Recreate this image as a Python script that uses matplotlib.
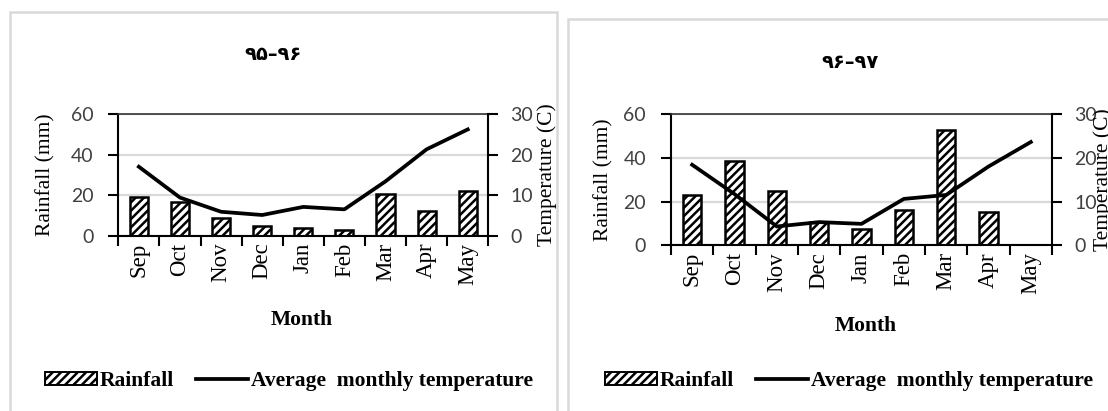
import numpy as np
import matplotlib
matplotlib.use('Agg')
import matplotlib.pyplot as plt
from matplotlib.patches import Rectangle
from matplotlib.lines import Line2D
from matplotlib.patches import Patch

## data
months = ['Sep', 'Oct', 'Nov', 'Dec', 'Jan', 'Feb', 'Mar', 'Apr', 'May']
rain_9596 = [19.2, 16.8, 8.6, 4.8, 4.0, 2.8, 20.7, 12.4, 22.2]
temp_9596 = [17.0, 9.4, 5.9, 5.1, 7.1, 6.5, 13.4, 21.3, 26.2]
rain_9697 = [23.0, 38.6, 24.6, 10.5, 7.5, 16.2, 52.8, 15.1, 0.0]
temp_9697 = [18.4, 11.7, 4.3, 5.3, 4.9, 10.6, 11.5, 18.0, 23.6]
titles = ['۹۵–۹۶', '۹۶–۹۷']
rain_ticks = [0, 20, 40, 60]
temp_ticks = [0, 10, 20, 30]

plt.rcParams['hatch.linewidth'] = 1.8
SERIF = 'Liberation Serif'
NUM = 'Lato'
W, H = 1108, 411

fig = plt.figure(figsize=(W / 100, H / 100), dpi=100)

def px(x, y):
    # pixel (top-left origin) -> figure fraction
    return x / W, 1 - y / H

# panel frames
for (x0, y0, x1) in [(10, 12, 557), (568, 19, 1120)]:
    fig.patches.append(Rectangle(px(x0, 430), (x1 - x0) / W, (430 - y0) / H,
                                 transform=fig.transFigure, fill=False,
                                 edgecolor='#d9d9d9', lw=1.8))

def panel(box, rain, temp, title, title_xy, month_xy, leg_xy, ylx, y2lx):
    x0, y0, x1, y1 = box
    l, b = px(x0, y1)
    ax = fig.add_axes([l, b, (x1 - x0) / W, (y1 - y0) / H])
    x = np.arange(len(months))
    ax.bar(x, rain, width=0.44, color='white', edgecolor='black', hatch='////', lw=1.8, zorder=2)
    ax.set_xlim(-0.5, len(months) - 0.5)
    ax.set_ylim(0, 60)
    ax.set_yticks(rain_ticks)
    ax.set_axisbelow(True)
    ax.yaxis.grid(True, color='#d9d9d9', lw=1.6)
    ax.set_xticks(x)
    ax.set_xticklabels(months, rotation=90, fontname=SERIF, fontsize=16.5)
    ax.set_xticks(np.arange(len(months) + 1) - 0.5, minor=True)
    ax.tick_params(axis='x', which='major', length=0, pad=5)
    ax.tick_params(axis='x', which='minor', length=7, width=1.5, direction='out')
    ax.tick_params(axis='y', length=7, width=1.5, pad=11, labelsize=14, labelcolor='#404040')
    for t in ax.get_yticklabels():
        t.set_fontname(NUM)
    for s in ['left', 'bottom']:
        ax.spines[s].set_linewidth(1.5)
    ax.spines['top'].set_color('#333333')
    ax.spines['top'].set_linewidth(1.2)
    ax.spines['right'].set_visible(False)
    ax.set_ylabel('Rainfall (mm)', fontname=SERIF, fontsize=15.5)
    ax.yaxis.set_label_coords(ylx, 0.5)

    ax2 = ax.twinx()
    ax2.plot(x, temp, color='black', lw=2.7, zorder=3)
    ax2.set_ylim(0, 30)
    ax2.set_yticks(temp_ticks)
    ax2.tick_params(axis='y', length=7, width=1.5, pad=9, labelsize=14, labelcolor='#404040')
    for t in ax2.get_yticklabels():
        t.set_fontname(NUM)
    for s in ['left', 'bottom', 'top']:
        ax2.spines[s].set_visible(False)
    ax2.spines['right'].set_linewidth(1.5)
    ax2.set_ylabel('Temperature (C)', fontname=SERIF, fontsize=15.5)
    ax2.yaxis.set_label_coords(y2lx, 0.5)

    fig.text(*px(*title_xy), title, family='DejaVu Sans', fontsize=14,
             fontweight='bold', ha='center', va='center')
    fig.text(*px(*month_xy), 'Month', fontname=SERIF, fontweight='bold',
             fontsize=15.5, ha='center', va='center')
    handles = [Patch(facecolor='white', edgecolor='black', hatch='////', lw=1.4),
               Line2D([], [], color='black', lw=2.7)]
    fig.legend(handles, ['Rainfall', 'Average  monthly temperature'],
               loc='center', bbox_to_anchor=px(*leg_xy), ncol=2, frameon=False,
               prop={'family': SERIF, 'weight': 'bold', 'size': 15.5},
               handlelength=2.4, handleheight=0.55, handletextpad=0.15,
               columnspacing=1.0)

panel((118.3, 114, 488.3, 235.7), rain_9596, temp_9596, titles[0],
      (273, 55), (302, 320), (289, 381), -0.171, 1.132)
panel((671, 114, 1052, 245.3), rain_9697, temp_9697, titles[1],
      (850, 62), (866, 326), (849, 381), -0.150, 1.108)

plt.savefig('out.png', dpi=100)
